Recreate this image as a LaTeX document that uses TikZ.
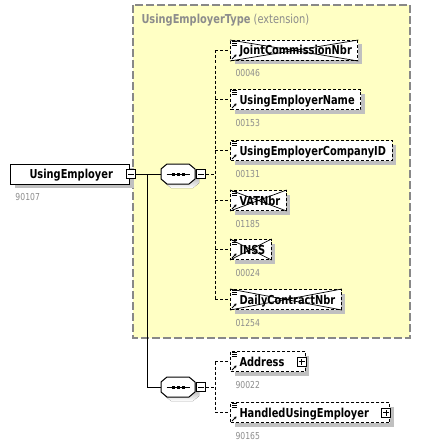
\documentclass[tikz,border=0pt]{standalone}
\usepackage{fontspec}
\setmainfont{Liberation Sans}
\newfontfamily\xsdfont[FakeStretch=0.80]{DejaVu Sans}
\usepackage{tikz}
\usetikzlibrary{shadows,arrows.meta}
\definecolor{typebg}{HTML}{FFFFC4}
\definecolor{typeframe}{HTML}{888888}
\definecolor{idgray}{HTML}{8C8C8C}
\definecolor{shade}{HTML}{C0C0C0}
\newcommand{\elemicons}[1]{%
	\draw[solid,line width=0.7pt] ([shift={(2,1.5)}]#1.north west) -- ++(5,0) ([shift={(2,3.5)}]#1.north west) -- ++(5,0) ([shift={(2,5.5)}]#1.north west) -- ++(5,0);
	\draw[solid,line width=0.8pt,-{Stealth[length=2.5pt,width=3pt]}] ([shift={(2,-2)}]#1.south west) -- ++(4.5,-4.5);}
\newcommand{\crossout}[1]{%
	\draw[solid,line width=0.7pt] (#1.north west) -- (#1.south east) (#1.south west) -- (#1.north east);}

\begin{document}
\begin{tikzpicture}[x=1pt,y=-1pt,line width=1pt,
	elem/.style={draw,dash pattern=on 3pt off 2pt,fill=white,font=\xsdfont\fontsize{12.3}{14}\selectfont\bfseries,minimum height=20pt,inner xsep=0pt,inner ysep=0pt,text height=9pt,text depth=0pt,anchor=north west,execute at begin node=\hspace*{9pt},execute at end node=\hspace*{6pt},general shadow={fill=shade,draw=none,shadow xshift=4pt,shadow yshift=-4pt}},
	withplus/.style={execute at end node=\hspace*{15pt}},
	idnum/.style={anchor=base west,text=idgray,font=\xsdfont\fontsize{9.6}{10}\selectfont,inner sep=0pt},
	pmbox/.style={draw,solid,fill=white,minimum size=9pt,inner sep=0pt},
	seq/.style={minimum width=34pt,minimum height=20pt,inner sep=0pt},
	conn/.style={dash pattern=on 3pt off 2pt}]
	\useasboundingbox (0,0) rectangle (429,444);
	\draw[typeframe,fill=typebg,line width=1.5pt,dash pattern=on 8pt off 3pt] (133,5) rectangle (410,338);
	\node[anchor=base west,text=idgray,font=\xsdfont\fontsize{12.3}{14}\selectfont,inner sep=0pt] (exttitle) at (141,24) {\textbf{UsingEmployerType} (extension)};

	\node[elem,draw,solid,general shadow={fill=shade,draw=none,shadow xshift=4pt,shadow yshift=-4pt},anchor=west,execute at begin node=\hspace*{10pt},execute at end node=\hspace*{11pt}] (ue) at (10,174) {UsingEmployer};
	\node[idnum] (ue-id) at ([shift={(5,16)}]ue.south west) {90107};
	\node[pmbox] (ue-m) at ([xshift=1pt]ue.east) {};
	\draw ([xshift=2pt]ue-m.west) -- ([xshift=-2pt]ue-m.east);

	\foreach \n/\t/\id/\y in {jcn/JointCommissionNbr/00046/40,uen/UsingEmployerName/00153/89,ucid/UsingEmployerCompanyID/00131/140,vat/VATNbr/01185/190,inss/INSS/00024/239,dcn/DailyContractNbr/01254/289}{
		\node[elem] (\n) at (230,\y) {\t};
		\node[idnum] (\n-id) at ([shift={(5,16)}]\n.south west) {\id};
		\elemicons{\n}
	}
	\foreach \n in {jcn,vat,inss,dcn}{\crossout{\n}}

	\foreach \n/\t/\id/\y in {addr/Address/90022/351,hue/HandledUsingEmployer/90165/402}{
		\node[elem,withplus] (\n) at (230,\y) {\t};
		\node[idnum] (\n-id) at ([shift={(5,16)}]\n.south west) {\id};
		\node[pmbox] (\n-p) at ([xshift=-4pt]\n.east) {};
		\draw ([xshift=2pt]\n-p.west) -- ([xshift=-2pt]\n-p.east) ([yshift=2pt]\n-p.south) -- ([yshift=-2pt]\n-p.north);
		\elemicons{\n}
	}

	\foreach \s/\y in {seqa/174,seqb/387}{
		\node[seq] (\s) at (178,\y) {};
		\fill[shade] ([shift={(4,4)}]\s.center) +(-17,-5) -- +(-11,-10) -- +(11,-10) -- +(17,-5) -- +(17,5) -- +(11,10) -- +(-11,10) -- +(-17,5) -- cycle;
		\draw[fill=white] (\s.center) +(-17,-5) -- +(-11,-10) -- +(11,-10) -- +(17,-5) -- +(17,5) -- +(11,10) -- +(-11,10) -- +(-17,5) -- cycle;
		\draw ([xshift=6pt]\s.west) -- ([xshift=-6pt]\s.east);
		\foreach \d in {-5,0,5}{\fill ([shift={(\d-1.5,-1.5)}]\s.center) rectangle ++(3,3);}
		\node[pmbox,anchor=west] (\s-m) at ([xshift=0.5pt]\s.east) {};
		\draw ([xshift=2pt]\s-m.west) -- ([xshift=-2pt]\s-m.east);
	}

	\coordinate (br) at (147,174);
	\coordinate (ja) at (215,174);
	\coordinate (jb) at (215,387);
	\draw (ue-m.east) -- (seqa.west);
	\draw (br) |- (seqb.west);
	\draw[conn] (seqa-m.east) -- (ja);
	\draw[conn] (ja |- jcn.west) -- (ja |- dcn.west);
	\foreach \n in {jcn,uen,ucid,vat,inss,dcn}{\draw[conn] (ja |- \n.west) -- (\n.west);}
	\draw[conn] (seqb-m.east) -- (jb);
	\draw[conn] (jb |- addr.west) -- (jb |- hue.west);
	\foreach \n in {addr,hue}{\draw[conn] (jb |- \n.west) -- (\n.west);}
\end{tikzpicture}
\end{document}
